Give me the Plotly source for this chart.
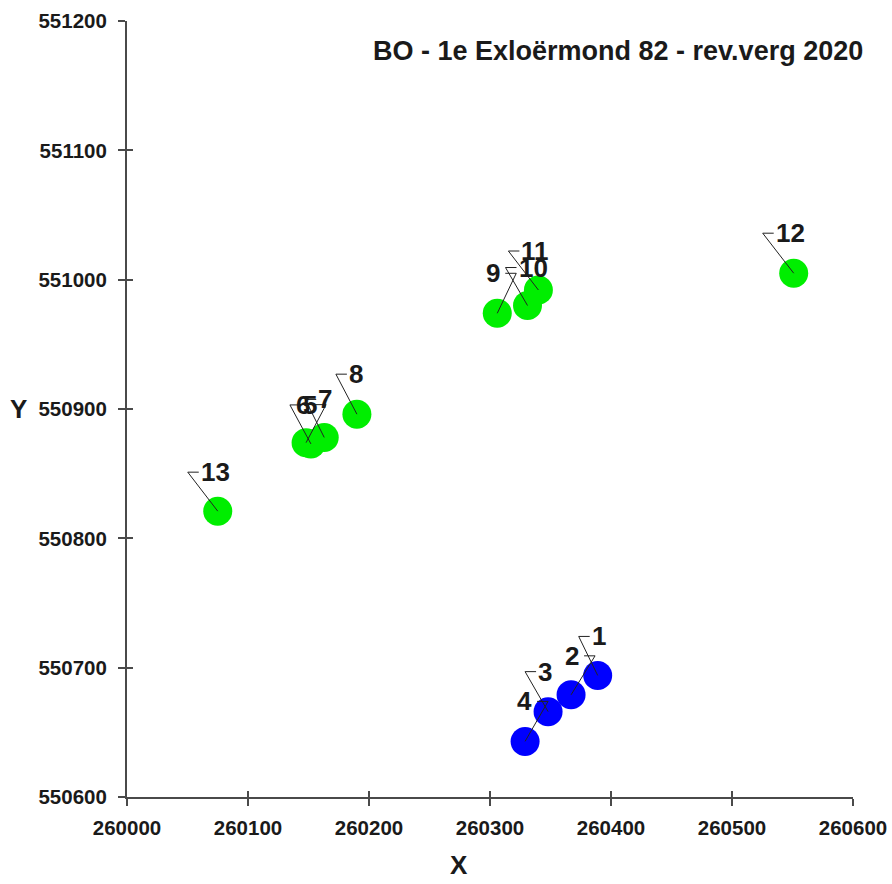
import plotly.graph_objects as go

# ---- data ----
point_ids = ["1", "2", "3", "4", "5", "6", "7", "8", "9", "10", "11", "12", "13"]
x_vals = [260389, 260367, 260348, 260329, 260152, 260148, 260163, 260190,
          260306, 260331, 260340, 260551, 260075]
y_vals = [550694, 550679, 550666, 550643, 550873, 550874, 550878, 550896,
          550974, 550980, 550992, 551005, 550821]
groups = ["blue", "blue", "blue", "blue", "green", "green", "green", "green",
          "green", "green", "green", "green", "green"]
x_ticks = [260000, 260100, 260200, 260300, 260400, 260500, 260600]
y_ticks = [550600, 550700, 550800, 550900, 551000, 551100, 551200]
title_text = "BO - 1e Exloërmond 82 - rev.verg 2020"

# ---- label callout layout (pixel offsets from the point, up positive) ----
lbl_dx = [-19, 24, -23, 23, -21, 20, -19, -21, 19, -22, -30, -31, -30]
lbl_dy = [39, 39, 40, 40, 39, 38, 38, 40, 40, 38, 39, 40, 39]
lbl_side = [1, -1, 1, -1, 1, -1, 1, 1, -1, 1, 1, 1, 1]
DASH = 11

colors = {"blue": "#0000ff", "green": "#00ee00"}
FONT = "Liberation Sans, Arial, sans-serif"
INK = "#1a1a1a"
AXIS = "#4a4a4a"

fig = go.Figure()
for g in ["green", "blue"]:
    xs = [x for x, gg in zip(x_vals, groups) if gg == g]
    ys = [y for y, gg in zip(y_vals, groups) if gg == g]
    fig.add_trace(go.Scatter(x=xs, y=ys, mode="markers",
                             marker=dict(size=29, color=colors[g], line=dict(width=0)),
                             showlegend=False, hoverinfo="skip"))
# helper trace for overlay axes (no marks)
fig.add_trace(go.Scatter(x=[], y=[], xaxis="x2", yaxis="y2", showlegend=False))

shapes = []
annotations = []
for pid, x, y, dx, dy, s in zip(point_ids, x_vals, y_vals, lbl_dx, lbl_dy, lbl_side):
    path = f"M0,0 L{dx},{dy} L{dx + s * DASH},{dy}"
    shapes.append(dict(type="path", path=path, xref="x", yref="y",
                       xsizemode="pixel", ysizemode="pixel",
                       xanchor=x, yanchor=y,
                       line=dict(color="#222222", width=1)))
    gap = DASH + 1 if s > 0 else DASH + 4
    annotations.append(dict(x=x, y=y, xref="x", yref="y", text=pid, showarrow=False,
                            xshift=dx + s * gap, yshift=dy,
                            xanchor="left" if s > 0 else "right", yanchor="middle",
                            borderpad=0,
                            font=dict(family=FONT, size=26, color=INK, weight="bold")))

annotations.append(dict(x=1, y=1, xref="paper", yref="paper", text=title_text,
                        showarrow=False, xanchor="right", yanchor="middle",
                        xshift=12, yshift=-30,
                        font=dict(family=FONT, size=27, color=INK, weight="bold")))
annotations.append(dict(x=0.457, y=0, xref="paper", yref="paper", text="X",
                        showarrow=False, xanchor="center", yanchor="middle",
                        yshift=-68,
                        font=dict(family=FONT, size=26, color=INK, weight="bold")))
annotations.append(dict(x=0, y=0.5, xref="paper", yref="paper", text="Y",
                        showarrow=False, xanchor="center", yanchor="middle",
                        xshift=-109,
                        font=dict(family=FONT, size=26, color=INK, weight="bold")))

tickfont = dict(family=FONT, size=20.5, color=INK, weight="bold")
common = dict(showgrid=False, zeroline=False, showline=True, linecolor=AXIS,
              linewidth=2, ticks="outside", ticklen=7, tickwidth=2, tickcolor=AXIS,
              tickfont=tickfont, fixedrange=True)

fig.update_layout(
    width=892, height=884,
    margin=dict(l=127, r=39, t=21, b=87, autoexpand=False),
    paper_bgcolor="white", plot_bgcolor="white",
    xaxis=dict(range=[x_ticks[0], x_ticks[-1]], tickvals=x_ticks,
               ticktext=[str(v) for v in x_ticks], ticklabelstandoff=4, **common),
    yaxis=dict(range=[y_ticks[0], y_ticks[-1]], tickvals=y_ticks,
               ticktext=[str(v) for v in y_ticks], ticklabelstandoff=7, **common),
    xaxis2=dict(overlaying="x", matches="x", anchor="y", side="bottom",
                range=[x_ticks[0], x_ticks[-1]], tickvals=x_ticks,
                ticks="inside", ticklen=6, tickwidth=2, tickcolor=AXIS,
                showticklabels=False, showgrid=False, zeroline=False, showline=False),
    yaxis2=dict(overlaying="y", matches="y", anchor="x", side="left",
                range=[y_ticks[0], y_ticks[-1]], tickvals=y_ticks,
                ticks="inside", ticklen=6, tickwidth=2, tickcolor=AXIS,
                showticklabels=False, showgrid=False, zeroline=False, showline=False),
    shapes=shapes,
    annotations=annotations,
    showlegend=False,
)

fig.write_html("out.html",
               config={"displayModeBar": False, "staticPlot": True},
               post_script="document.body.style.margin='0';"
                           "document.body.style.overflow='hidden';")
